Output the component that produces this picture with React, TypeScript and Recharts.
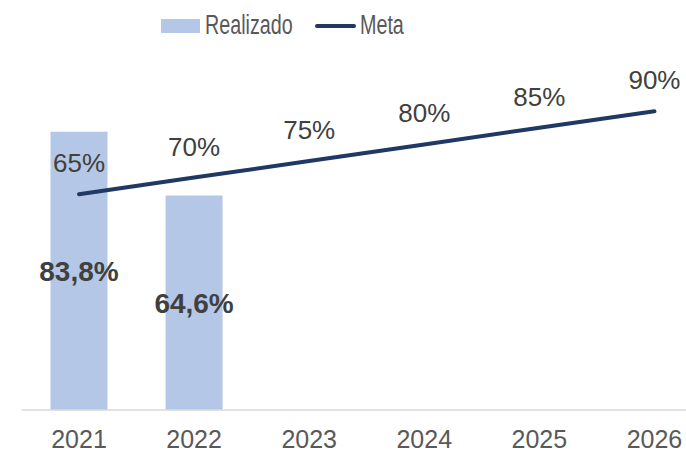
import React from 'react';
import { ComposedChart, Bar, Line, XAxis, YAxis, LabelList } from 'recharts';

const years = ['2021', '2022', '2023', '2024', '2025', '2026'];
const realizado = [83.8, 64.6, null, null, null, null];
const meta = [65, 70, 75, 80, 85, 90];

const data = years.map((year, i) => ({ year, realizado: realizado[i], meta: meta[i] }));

const FONT = '"Liberation Sans", Arial, sans-serif';

const fmtBar = (v: any) => (v == null ? '' : `${String(v).replace('.', ',')}%`);
const fmtLine = (v: any) => `${v}%`;

const LegendText = ({ children, left }: any) => (
  <span
    style={{
      position: 'absolute', left, top: 12, fontSize: 27, lineHeight: '27px', color: '#595959',
      transform: 'scaleX(0.73)', transformOrigin: 'left', whiteSpace: 'nowrap',
    }}
  >
    {children}
  </span>
);

const App: React.FC = () => {
  return (
    <div style={{ position: 'absolute', left: 0, top: 0, width: 686, height: 453, overflow: 'hidden', background: '#fff', fontFamily: FONT }}>
      <ComposedChart width={712} height={453} data={data} margin={{ top: 78, right: 0, bottom: 0, left: 21.5 }}>
        <XAxis
          dataKey="year"
          height={43}
          tickLine={false}
          tickMargin={14}
          axisLine={{ stroke: '#d9d9d9', strokeWidth: 1.5 }}
          tick={{ fill: '#595959', fontSize: 25, fontFamily: FONT }}
          interval={0}
        />
        <YAxis hide domain={[0, 100]} />
        <Bar dataKey="realizado" name="Realizado" fill="#b4c7e7" barSize={57} isAnimationActive={false}>
          <LabelList dataKey="realizado" position="center" formatter={fmtBar} fill="#404040" fontSize={28} fontWeight="bold" fontFamily={FONT} />
        </Bar>
        <Line dataKey="meta" name="Meta" stroke="#1f3864" strokeWidth={4} dot={false} strokeLinecap="round" isAnimationActive={false}>
          <LabelList dataKey="meta" position="top" offset={22} formatter={fmtLine} fill="#404040" fontSize={26} fontFamily={FONT} />
        </Line>
      </ComposedChart>
      <div style={{ position: 'absolute', left: 161, top: 19, width: 39, height: 14, background: '#b4c7e7' }} />
      <LegendText left={205}>Realizado</LegendText>
      <div style={{ position: 'absolute', left: 315, top: 24, width: 41, height: 4, borderRadius: 2, background: '#1f3864' }} />
      <LegendText left={360}>Meta</LegendText>
    </div>
  );
};

export default App;
